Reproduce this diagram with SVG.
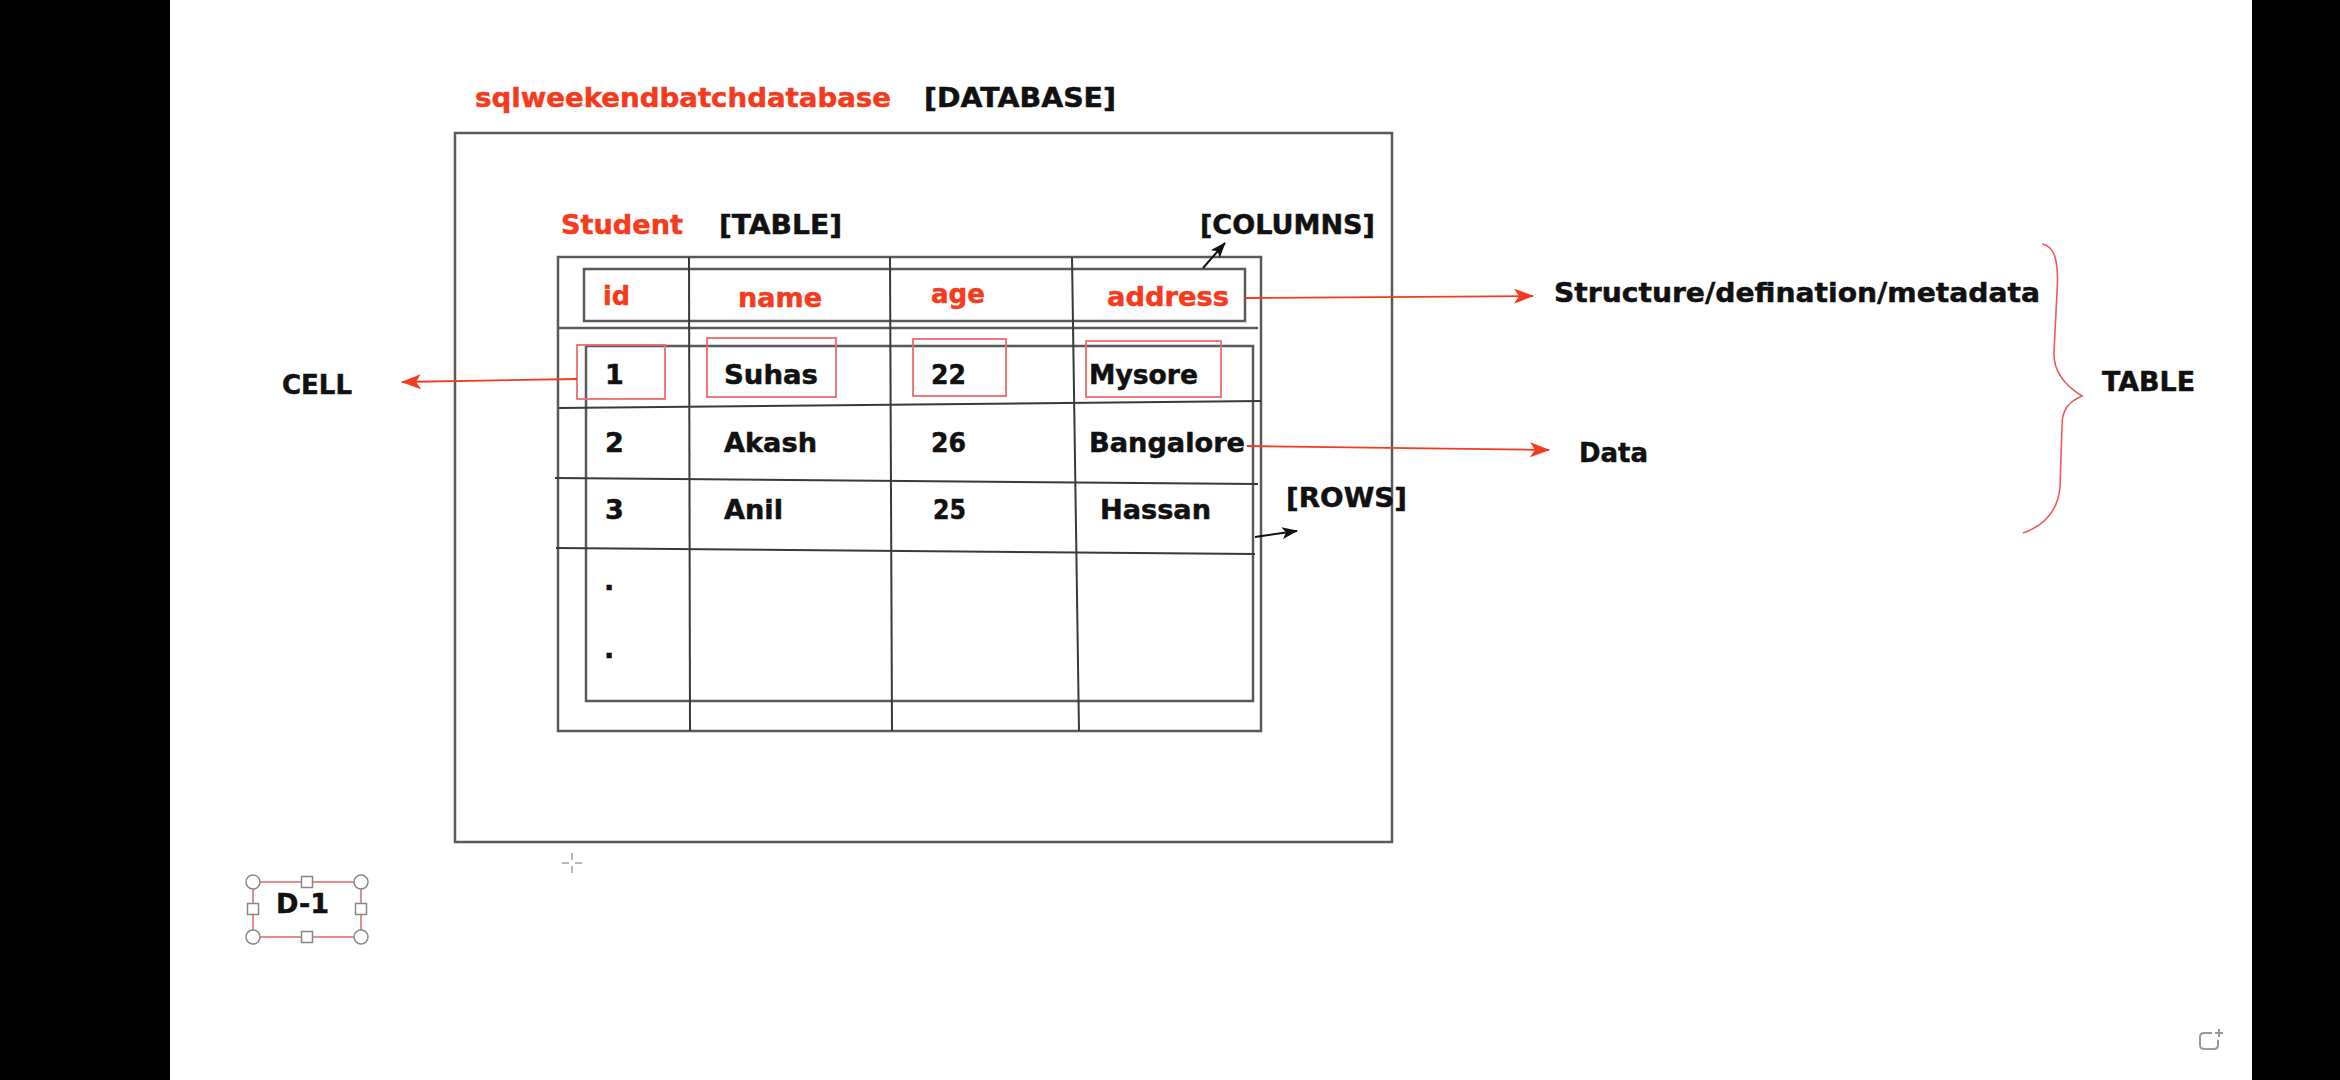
<svg xmlns="http://www.w3.org/2000/svg" width="2340" height="1080" viewBox="0 0 2340 1080">
<style>
.t{font-family:"DejaVu Sans","Liberation Sans",sans-serif;font-weight:bold;font-size:27px;fill:#111;stroke:#111;stroke-width:0.5}
.r{fill:#f43b1e;stroke:#f43b1e}
.ln{fill:none;stroke:#3a3a3a;stroke-width:2}
.box{fill:none;stroke:#5a5a5a;stroke-width:2.5}
.cell{fill:none;stroke:#ef6b6b;stroke-width:1.8}
.ra{fill:none;stroke:#f43b1e;stroke-width:1.8}
.ba{fill:none;stroke:#111;stroke-width:2}
.h{fill:#fff;stroke:#888;stroke-width:1.5}
</style>
<defs>
<marker id="rh" viewBox="0 0 20 15" refX="19" refY="7.5" markerWidth="20" markerHeight="15" markerUnits="userSpaceOnUse" orient="auto">
<path d="M0,0 L20,7.5 L0,15 L5,7.5 Z" fill="#f43b1e"/>
</marker>
<marker id="bh" viewBox="0 0 16 12" refX="15" refY="6" markerWidth="16" markerHeight="12" markerUnits="userSpaceOnUse" orient="auto">
<path d="M0,0 L16,6 L0,12 L4,6 Z" fill="#111"/>
</marker>
</defs>
<rect x="0" y="0" width="2340" height="1080" fill="#000"/>
<rect x="170" y="0" width="2082" height="1080" fill="#fff"/>

<g id="database">
<rect class="box" x="455" y="133" width="937" height="709"/>
<text class="t r" x="475" y="107" textLength="416" lengthAdjust="spacingAndGlyphs">sqlweekendbatchdatabase</text>
<text class="t" x="924" y="107" textLength="192" lengthAdjust="spacingAndGlyphs">[DATABASE]</text>
</g>

<g id="table">
<text class="t r" x="561" y="234" textLength="122" lengthAdjust="spacingAndGlyphs">Student</text>
<text class="t" x="719" y="234" textLength="123" lengthAdjust="spacingAndGlyphs">[TABLE]</text>
<rect class="box" x="558" y="257" width="703" height="474"/>
<rect class="box" x="584" y="269" width="661" height="52"/>
<line class="box" x1="558" y1="328" x2="1258" y2="328"/>
<rect class="box" x="586" y="346" width="667" height="355"/>
<line class="ln" x1="689" y1="257" x2="690" y2="731"/>
<line class="ln" x1="890" y1="257" x2="892" y2="731"/>
<line class="ln" x1="1072" y1="257" x2="1079" y2="731"/>
<line class="ln" x1="559" y1="408" x2="1261" y2="401"/>
<line class="ln" x1="555" y1="478" x2="1258" y2="484"/>
<line class="ln" x1="556" y1="548" x2="1255" y2="554"/>
</g>

<g id="header">
<text class="t r" x="603" y="305" textLength="27" lengthAdjust="spacingAndGlyphs">id</text>
<text class="t r" x="738" y="307" textLength="84" lengthAdjust="spacingAndGlyphs">name</text>
<text class="t r" x="931" y="303" textLength="54" lengthAdjust="spacingAndGlyphs">age</text>
<text class="t r" x="1107" y="306" textLength="122" lengthAdjust="spacingAndGlyphs">address</text>
</g>

<g id="cells">
<rect class="cell" x="577" y="345" width="88" height="54"/>
<rect class="cell" x="707" y="338" width="129" height="59"/>
<rect class="cell" x="913" y="339" width="93" height="57"/>
<rect class="cell" x="1086" y="341" width="135" height="56"/>
</g>

<g id="rows">
<text class="t" x="605" y="384">1</text>
<text class="t" x="724" y="384" textLength="94" lengthAdjust="spacingAndGlyphs">Suhas</text>
<text class="t" x="931" y="384" textLength="35" lengthAdjust="spacingAndGlyphs">22</text>
<text class="t" x="1089" y="384" textLength="109" lengthAdjust="spacingAndGlyphs">Mysore</text>
<text class="t" x="605" y="452">2</text>
<text class="t" x="724" y="452" textLength="93" lengthAdjust="spacingAndGlyphs">Akash</text>
<text class="t" x="931" y="452" textLength="35" lengthAdjust="spacingAndGlyphs">26</text>
<text class="t" x="1089" y="452" textLength="156" lengthAdjust="spacingAndGlyphs">Bangalore</text>
<text class="t" x="605" y="519">3</text>
<text class="t" x="724" y="519" textLength="59" lengthAdjust="spacingAndGlyphs">Anil</text>
<text class="t" x="933" y="519" textLength="33" lengthAdjust="spacingAndGlyphs">25</text>
<text class="t" x="1100" y="519" textLength="111" lengthAdjust="spacingAndGlyphs">Hassan</text>
<text class="t" x="604" y="590">.</text>
<text class="t" x="604" y="658">.</text>
</g>

<g id="labels">
<text class="t" x="1200" y="234" textLength="175" lengthAdjust="spacingAndGlyphs">[COLUMNS]</text>
<text class="t" x="1286" y="507" textLength="121" lengthAdjust="spacingAndGlyphs">[ROWS]</text>
<text class="t" x="282" y="394" textLength="70" lengthAdjust="spacingAndGlyphs">CELL</text>
<text class="t" x="1554" y="302" textLength="486" lengthAdjust="spacingAndGlyphs">Structure/defination/metadata</text>
<text class="t" x="1579" y="462" textLength="69" lengthAdjust="spacingAndGlyphs">Data</text>
<text class="t" x="2102" y="391" textLength="93" lengthAdjust="spacingAndGlyphs">TABLE</text>
</g>

<g id="brace">
<path d="M2042,244 C2055,246 2059,262 2057,292 L2054,352 C2053,372 2066,386 2082,396 C2068,402 2062,410 2062,426 L2060,487 C2058,510 2046,525 2023,533" fill="none" stroke="#ee5a5a" stroke-width="1.6"/>
</g>

<g id="connectors">
<line class="ra" x1="1245" y1="298" x2="1533" y2="296" marker-end="url(#rh)"/>
<line class="ra" x1="1247" y1="446" x2="1549" y2="450" marker-end="url(#rh)"/>
<line class="ra" x1="577" y1="379" x2="402" y2="382" marker-end="url(#rh)"/>
<line class="ba" x1="1203" y1="268" x2="1225" y2="243" marker-end="url(#bh)"/>
<line class="ba" x1="1255" y1="537" x2="1297" y2="531" marker-end="url(#bh)"/>
</g>

<g id="d1">
<rect x="253" y="882" width="108" height="55" fill="none" stroke="#e88a8a" stroke-width="2"/>
<text class="t" x="276" y="913" textLength="53" lengthAdjust="spacingAndGlyphs">D-1</text>
<circle class="h" cx="253" cy="882" r="7"/>
<circle class="h" cx="361" cy="882" r="7"/>
<circle class="h" cx="253" cy="937" r="7"/>
<circle class="h" cx="361" cy="937" r="7"/>
<rect class="h" x="301.5" y="876.5" width="11" height="11"/>
<rect class="h" x="301.5" y="931.5" width="11" height="11"/>
<rect class="h" x="247.5" y="903.5" width="11" height="11"/>
<rect class="h" x="355.5" y="903.5" width="11" height="11"/>
</g>

<g id="cursor" stroke="#888" stroke-width="1.2">
<line x1="562" y1="863" x2="569" y2="863"/>
<line x1="575" y1="863" x2="582" y2="863"/>
<line x1="572" y1="853" x2="572" y2="860"/>
<line x1="572" y1="866" x2="572" y2="873"/>
</g>

<g id="icon" fill="none" stroke="#999" stroke-width="2">
<path d="M2212,1033 L2204,1033 Q2200,1033 2200,1037 L2200,1045 Q2200,1049 2204,1049 L2214,1049 Q2218,1049 2218,1045 L2218,1040"/>
<path d="M2219,1029 L2219,1037 M2215,1033 L2223,1033"/>
</g>
</svg>
